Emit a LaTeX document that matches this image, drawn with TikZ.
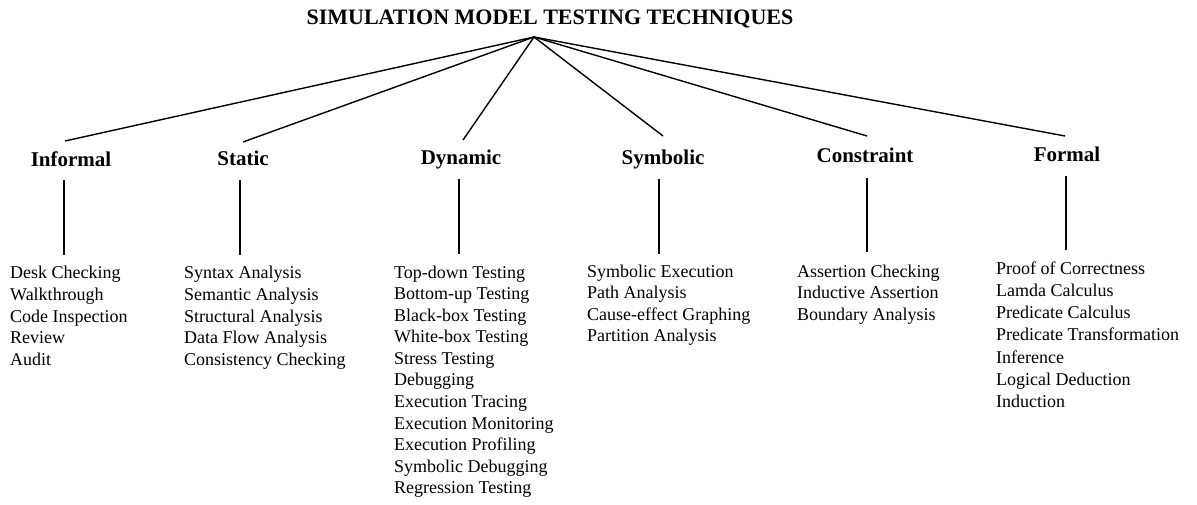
\documentclass[tikz,border=0pt]{standalone}
\usepackage{fontspec}
\setmainfont{Liberation Serif}
\usetikzlibrary{calc}
\begin{document}
\begin{tikzpicture}[x=1pt,y=-1pt,
  ttl/.style={font=\fontsize{22}{26}\selectfont\bfseries, inner sep=0pt, anchor=base},
  cat/.style={font=\fontsize{21}{25}\selectfont\bfseries, inner sep=0pt, anchor=base},
  lst/.style={font=\fontsize{18}{21.6}\selectfont, inner sep=0pt, anchor=base west},
  edge/.style={line width=1.4pt},
  vline/.style={line width=1.2pt}]
\useasboundingbox (0,0) rectangle (1197,505);
\node[ttl] (root) at (550,25) {SIMULATION MODEL TESTING TECHNIQUES};
\coordinate (apex) at (534,37);
% categories
\node[cat] (cI) at (71,167) {Informal};
\node[cat] (cS) at (243,166) {Static};
\node[cat] (cD) at (461,165) {Dynamic};
\node[cat] (cY) at (663,165) {Symbolic};
\node[cat] (cC) at (865,163) {Constraint};
\node[cat] (cF) at (1067,162) {Formal};
% connectors from root
\draw[edge] (apex) -- (65,141) coordinate (eI);
\draw[edge] (apex) -- (243,142) coordinate (eS);
\draw[edge] (apex) -- (463,140) coordinate (eD);
\draw[edge] (apex) -- (663,136) coordinate (eY);
\draw[edge] (apex) -- (867,136) coordinate (eC);
\draw[edge] (apex) -- (1065,136) coordinate (eF);
% lists
\node[lst] (lI) at (10,279) {\begin{tabular}[t]{@{}l@{}}Desk Checking\\Walkthrough\\Code Inspection\\Review\\Audit\end{tabular}};
\node[lst] (lS) at (184,279) {\begin{tabular}[t]{@{}l@{}}Syntax Analysis\\Semantic Analysis\\Structural Analysis\\Data Flow Analysis\\Consistency Checking\end{tabular}};
\node[lst] (lD) at (394,278) {\begin{tabular}[t]{@{}l@{}}Top-down Testing\\Bottom-up Testing\\Black-box Testing\\White-box Testing\\Stress Testing\\Debugging\\Execution Tracing\\Execution Monitoring\\Execution Profiling\\Symbolic Debugging\\Regression Testing\end{tabular}};
\node[lst] (lY) at (587,277) {\begin{tabular}[t]{@{}l@{}}Symbolic Execution\\Path Analysis\\Cause-effect Graphing\\Partition Analysis\end{tabular}};
\node[lst] (lC) at (797,277) {\begin{tabular}[t]{@{}l@{}}Assertion Checking\\Inductive Assertion\\Boundary Analysis\end{tabular}};
\node[lst,font=\fontsize{18}{22.3}\selectfont] (lF) at (996,274) {\begin{tabular}[t]{@{}l@{}}Proof of Correctness\\Lamda Calculus\\Predicate Calculus\\Predicate Transformation\\Inference\\Logical Deduction\\Induction\end{tabular}};
% vertical connectors
\coordinate (tI) at (64,180);  \coordinate (bI) at (64,255);
\coordinate (tS) at (240,180); \coordinate (bS) at (240,255);
\coordinate (tD) at (459,179); \coordinate (bD) at (459,254);
\coordinate (tY) at (659,179); \coordinate (bY) at (659,254);
\coordinate (tC) at (867,178); \coordinate (bC) at (867,252);
\coordinate (tF) at (1066,176); \coordinate (bF) at (1066,250);
\draw[vline] (tI) -- (bI);
\draw[vline] (tS) -- (bS);
\draw[vline] (tD) -- (bD);
\draw[vline] (tY) -- (bY);
\draw[vline] (tC) -- (bC);
\draw[vline] (tF) -- (bF);
\end{tikzpicture}
\end{document}
